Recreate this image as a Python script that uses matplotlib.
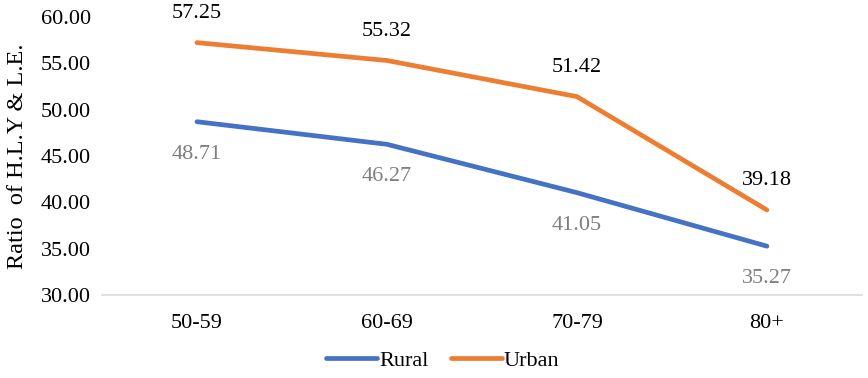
import matplotlib
matplotlib.use("Agg")
import matplotlib.pyplot as plt

categories = ["50-59", "60-69", "70-79", "80+"]
rural = [48.71, 46.27, 41.05, 35.27]
urban = [57.25, 55.32, 51.42, 39.18]
yticks = [30, 35, 40, 45, 50, 55, 60]

plt.rcParams["font.family"] = ["Liberation Serif", "DejaVu Serif"]

fig = plt.figure(figsize=(8.68, 3.78), dpi=100)
ax = fig.add_axes([0.1175, 0.2196, 0.8755, 0.735])

x = list(range(len(categories)))
blue = "#4472C4"
orange = "#ED7D31"
ax.plot(x, rural, color=blue, lw=3.4, solid_capstyle="round", label="Rural", zorder=3)
ax.plot(x, urban, color=orange, lw=3.4, solid_capstyle="round", label="Urban", zorder=3)

for xi, v in zip(x, urban):
    ax.annotate(f"{v:.2f}", (xi, v), xytext=(0, 21), textcoords="offset points",
                ha="center", va="center", fontsize=16, color="#000000")
for xi, v in zip(x, rural):
    ax.annotate(f"{v:.2f}", (xi, v), xytext=(0, -23.5), textcoords="offset points",
                ha="center", va="center", fontsize=16, color="#7F7F7F")

ax.set_xlim(-0.5, len(categories) - 0.5)
ax.set_ylim(30, 60)
ax.set_yticks(yticks)
ax.set_yticklabels([f"{t:.2f}" for t in yticks])
ax.set_xticks(x)
ax.set_xticklabels(categories)
ax.tick_params(axis="both", length=0, labelsize=16, colors="#000000")
ax.tick_params(axis="x", pad=14)
ax.tick_params(axis="y", pad=8)

for side in ["top", "right", "left"]:
    ax.spines[side].set_visible(False)
ax.spines["bottom"].set_color("#D9D9D9")
ax.spines["bottom"].set_linewidth(1.2)
ax.spines["bottom"].set_zorder(1)

ax.set_ylabel("Ratio  of H.L.Y & L.E.", fontsize=17.5)
ax.yaxis.set_label_coords(-0.097, 0.5)

fig.legend(loc="lower center", bbox_to_anchor=(0.51, -0.035), ncol=2, frameon=False,
           fontsize=16, handlelength=2.3, handletextpad=0.1, columnspacing=1.0)

fig.savefig("out.png", dpi=100)
